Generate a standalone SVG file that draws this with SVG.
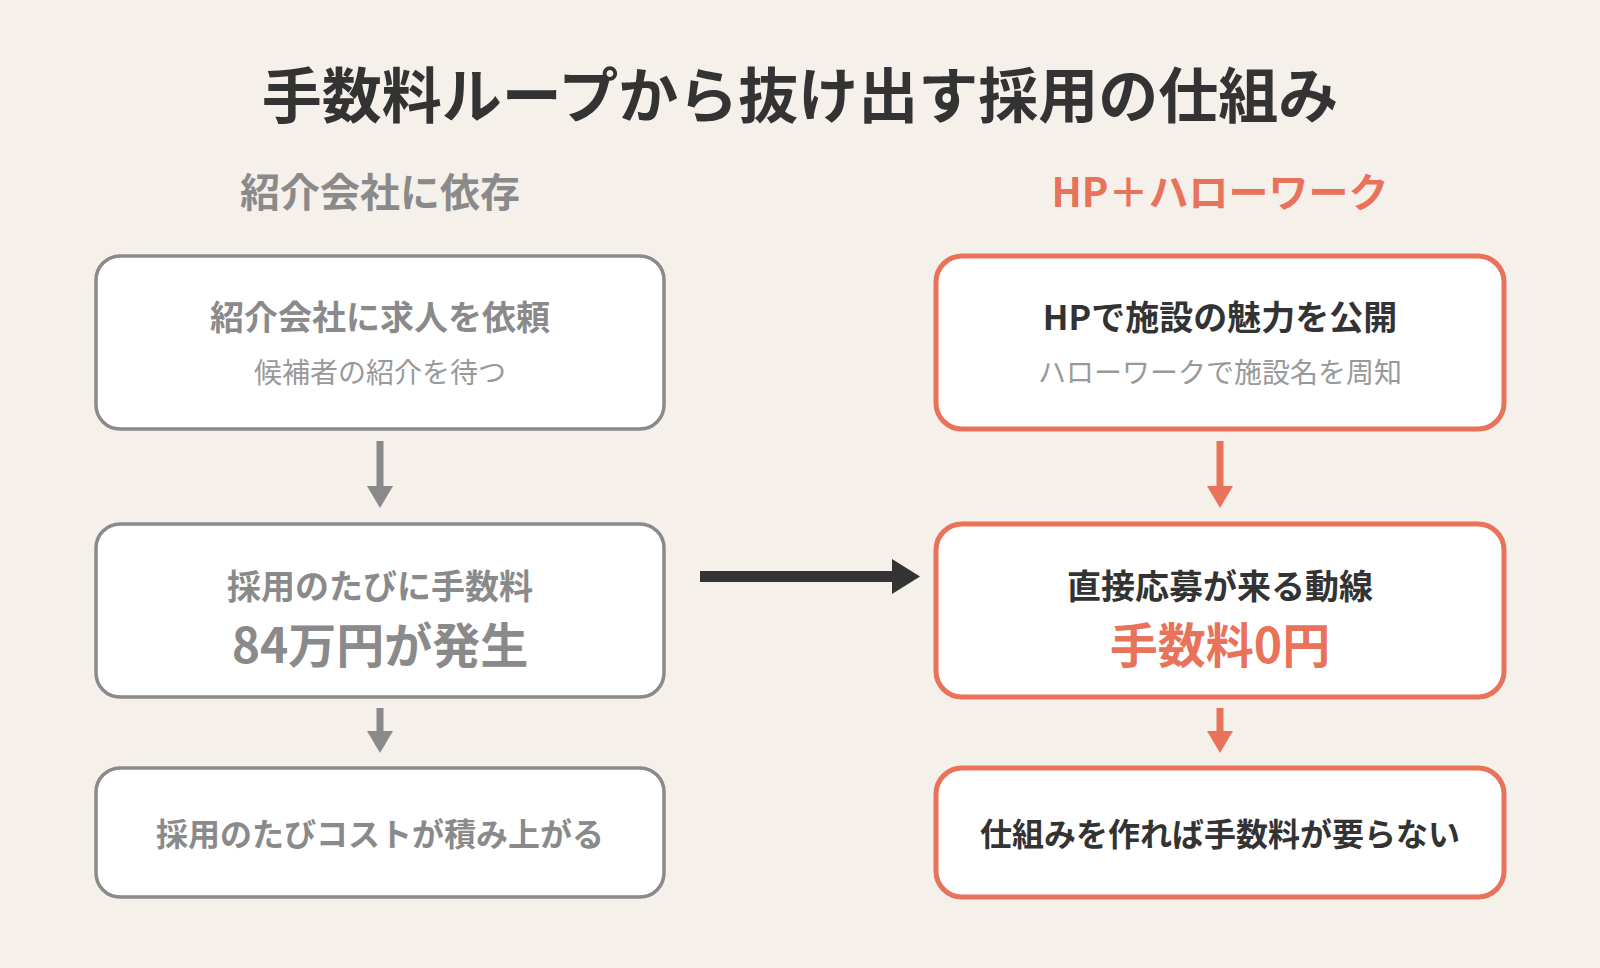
<svg xmlns="http://www.w3.org/2000/svg" width="1600" height="968" viewBox="0 0 1600 968">
<defs>
<style>
text{font-family:"Noto Sans CJK JP","Noto Sans",sans-serif;text-anchor:middle;dominant-baseline:central}
.title{font-size:60px;font-weight:700;fill:#333}
.head{font-size:40px;font-weight:700}
.box-g{fill:#fff;stroke:#8a8a8a;stroke-width:3.5}
.box-o{fill:#fff;stroke:#e8735a;stroke-width:5}
.main{font-size:34px;font-weight:700}
.main3{font-size:32px;font-weight:700}
.sub{font-size:28px;font-weight:400;fill:#999}
.big{font-size:48px;font-weight:700}
.g{fill:#8a8a8a}
.d{fill:#333}
.o{fill:#e8735a}
</style>
</defs>
<rect width="1600" height="968" fill="#f5f0ea"/>
<text class="title" x="800" y="91">手数料ループから抜け出す採用の仕組み</text>
<text class="head g" x="380" y="190">紹介会社に依存</text>
<text class="head o" x="1220" y="190">HP＋ハローワーク</text>

<g id="connectors">
<rect x="376.5" y="441" width="7" height="47" fill="#8a8a8a"/>
<polygon points="367,486 393,486 380,508" fill="#8a8a8a"/>
<rect x="376.5" y="708" width="7" height="25" fill="#8a8a8a"/>
<polygon points="367,731 393,731 380,753" fill="#8a8a8a"/>
<rect x="1216.5" y="441" width="7" height="47" fill="#e8735a"/>
<polygon points="1207,486 1233,486 1220,508" fill="#e8735a"/>
<rect x="1216.5" y="708" width="7" height="25" fill="#e8735a"/>
<polygon points="1207,731 1233,731 1220,753" fill="#e8735a"/>
<rect x="700" y="571" width="194" height="11" fill="#333"/>
<polygon points="892,559 920,576.5 892,594" fill="#333"/>
</g>

<g id="left1">
<rect class="box-g" x="96" y="256" width="568" height="173" rx="24"/>
<text class="main g" x="380" y="315">紹介会社に求人を依頼</text>
<text class="sub" x="380" y="371">候補者の紹介を待つ</text>
</g>
<g id="left2">
<rect class="box-g" x="96" y="524" width="568" height="173" rx="24"/>
<text class="main g" x="380" y="584">採用のたびに手数料</text>
<text class="big g" x="380" y="642">84万円が発生</text>
</g>
<g id="left3">
<rect class="box-g" x="96" y="768" width="568" height="129" rx="24"/>
<text class="main3 g" x="380" y="832">採用のたびコストが積み上がる</text>
</g>

<g id="right1">
<rect class="box-o" x="936" y="256" width="568" height="173" rx="26"/>
<text class="main d" x="1220" y="315">HPで施設の魅力を公開</text>
<text class="sub" x="1220" y="371">ハローワークで施設名を周知</text>
</g>
<g id="right2">
<rect class="box-o" x="936" y="524" width="568" height="173" rx="26"/>
<text class="main d" x="1220" y="584">直接応募が来る動線</text>
<text class="big o" x="1220" y="642">手数料0円</text>
</g>
<g id="right3">
<rect class="box-o" x="936" y="768" width="568" height="129" rx="26"/>
<text class="main3 d" x="1220" y="832">仕組みを作れば手数料が要らない</text>
</g>
</svg>
